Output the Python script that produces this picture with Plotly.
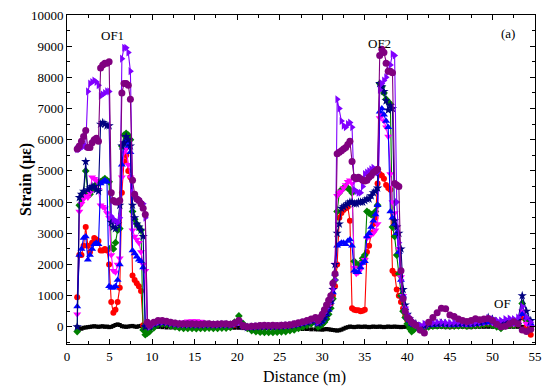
import plotly.graph_objects as go

distance = [
    1.2, 1.45, 1.7, 1.95, 2.2, 2.45, 2.7, 2.95, 3.2, 3.45, 3.7, 3.95, 4.2, 4.45, 4.7, 4.95, 5.2,
    5.45, 5.7, 5.95, 6.2, 6.45, 6.7, 6.95, 7.2, 7.45, 7.7, 7.95, 8.2, 8.45, 8.7, 8.95, 9.2, 9.45,
    9.7, 10.2, 10.7, 11.2, 11.7, 12.2, 12.7, 13.2, 13.7, 14.2, 14.7, 15.2, 15.7, 16.2, 16.7, 17.2,
    17.7, 18.2, 18.7, 19.2, 19.7, 20.2, 20.7, 21.2, 21.7, 22.2, 22.7, 23.2, 23.7, 24.2, 24.7, 25.2,
    25.7, 26.2, 26.7, 27.2, 27.7, 28.2, 28.7, 29.2,
    29.5, 29.75, 30.0, 30.25, 30.5, 30.75, 31.0, 31.25, 31.5, 31.75, 32.0, 32.25, 32.5, 32.75,
    33.0, 33.25, 33.5, 33.75, 34.0, 34.25, 34.5, 34.75, 35.0, 35.25, 35.5, 35.75, 36.0, 36.25,
    36.5, 36.75, 37.0, 37.25, 37.5, 37.75, 38.0, 38.25, 38.5, 38.75, 39.0, 39.25, 39.5, 39.75,
    40.0, 40.25, 40.5, 40.75, 41.0,
    41.5, 42.0, 42.5, 43.0, 43.5, 44.0, 44.5, 45.0, 45.5, 46.0, 46.5, 47.0, 47.5, 48.0, 48.5,
    49.0, 49.5, 50.0, 50.5, 51.0, 51.5, 52.0, 52.5, 53.0, 53.5, 54.0, 54.5,
]

strain_black = [
    0, -50, -60, -30, -20, -10, 0, 10, 20, 10, 0, 10, 20, 0, 10, -10, 0, 30, 60, 80, 60, 20, 10, 0,
    10, 20, 30, 10, 0, 20, 30, 40, 30, 20,
    20, 10, 0, -10, -20, -20, -20, -30, -30, -30, -30, -30, -30, -30, -30, -30, -30, -30, -30, -30,
    -30, -30, -40, -40, -40, -40, -40, -40, -40, -40, -50, -50, -50, -60, -60, -60, -70, -70, -80, -80,
    -80, -80, -90, -80, -70, -80, -90, -100, -110, -120, -110, -90, -60, -30, -10, 10, 0, -10, 0, 10,
    0, 0, 10, 0, -10, 0, 10, 0, 0, 10, 0, -10, 0, 10, 0, 0, 10, 0, 0, -10, 0, 0, 10, 0, 0, 0, 0,
    0, -10, -10, 0, 0, 0, -10, -10, 0, 0, 0, -10, -10, 0, 0, 0, 0, 0, 0, 0, 0, 0, 0, 0, 0, 0, 0,
]

strain_red = [
    950, 2300, 2300, 2600, 3200, 2600, 2400, 2700, 2850, 2800, 2750, 2450, 2450, 2500, 2450, 2000,
    800, 450, 550, 800, 1250, 4300, 5300, 5500, 5000, 4800, 1650, 1500, 1400, 1300, 1150, 50, 0, 50,
    -20, 50, 100, 110, 100, 80, 60, 50, 50, 40, 40, 40, 40, 50, 50, 40, 40, 50, 50, 40, 70, 140, 10,
    -30, -20, -10, 0, 0, 0, 0, 0, 10, 20, 30, 50, 70, 100, 130, 160, 200,
    100, 150, 200, 300, 400, 550, 750, 1000, 1300, 2000, 3500, 3650, 3750, 3800, 3850, 3400, 600,
    550, 530, 530, 500, 520, 550, 2400, 2600, 3000, 3300, 3500, 4600, 4900, 4850, 4750, 4550, 4450,
    4400, 1800, 1700, 1200, 1000, 800, 600, 350, 200, 100, 50, 0, 0,
    -50, 0, 30, 40, 50, 50, 40, 30, 30, 40, 50, 30, 40, 50, 60, 80, 100, 80, 50, 30, 50, 70, 60, 80,
    300, 0, -250,
]

strain_green = [
    -150, 3900, 4100, 4300, 5000, 4300, 4250, 4400, 4500, 4550, 4600, 4650, 4700, 4750, 4700, 4650,
    2550, 2500, 2700, 3100, 3150, 5800, 6150, 6200, 6150, 6000, 3700, 3450, 3300, 3200, 3100, -100,
    -250, -200,
    -150, -30, 80, 100, 80, 30, 0, -30, -50, -50, -50, -60, -50, -50, -40, -50, -50, -40, -40, -20,
    150, 350, 100, -50, -120, -150, -170, -180, -180, -180, -170, -160, -150, -120, -100, -50, 0, 50,
    100, 150,
    0, 30, 80, 150, 250, 400, 600, 900, 1500, 3700, 4300, 4400, 4450, 4500, 4450, 4400, 4300, 2100,
    2000, 1950, 2050, 2200, 2300, 3700, 3650, 3600, 3600, 3700, 3900, 7800, 7700, 7500, 7300, 7200,
    7150, 3200, 2900, 2300, 1700, 1000, 500, 300, 100, -50, -150, -100, 0,
    -100, -50, 0, 20, 30, 40, 30, 20, 20, 30, 40, 20, 30, 40, 50, 80, 100, 50, 0, -50, 30, 60, 50,
    100, 750, 200, 0,
]

strain_magenta = [
    400, 3700, 3950, 4100, 4200, 4150, 4300, 4800, 4750, 4700, 4400, 3900, 3850, 3800, 3650, 3500,
    2300, 1800, 1750, 2000, 2200, 4800, 5600, 5700, 5200, 4800, 3100, 2900, 2800, 2700, 2400, 2000,
    1800, 100,
    50, 130, 180, 180, 170, 150, 130, 120, 150, 180, 190, 190, 170, 120, 100, 90, 90, 100, 100, 90,
    110, 180, 30, 0, 20, 30, 30, 40, 40, 40, 40, 50, 50, 60, 80, 110, 140, 170, 200, 250,
    120, 200, 280, 380, 500, 650, 850, 1200, 2000, 4200, 4300, 4350, 4450, 4550, 4650, 4700, 4600,
    1900, 1700, 1750, 1850, 2050, 2150, 2850, 2900, 2950, 3000, 3100, 3300, 6700, 6800, 6600, 6400,
    6100, 4900, 4000, 3650, 3200, 2500, 1600, 1000, 600, 300, 200, 100, 80, 50,
    0, 50, 80, 90, 100, 100, 90, 80, 80, 90, 100, 80, 90, 100, 110, 130, 150, 120, 80, 60, 80, 100,
    90, 120, 500, 100, 0,
]

strain_blue = [
    650, 2300, 2500, 2850, 2900, 2150, 2300, 2500, 2650, 2700, 2650, 4600, 4650, 4700, 4650, 1300,
    1250, 1250, 1300, 1500, 2000, 5200, 5900, 5950, 5800, 5600, 2450, 2350, 2250, 2150, 2100, 1900,
    50, 50,
    0, 80, 120, 130, 120, 100, 80, 70, 60, 60, 60, 50, 50, 60, 60, 50, 50, 60, 60, 50, 80, 150, 20,
    -30, -20, 0, 0, 10, 10, 10, 10, 20, 30, 40, 60, 80, 110, 140, 180, 230,
    100, 150, 200, 300, 400, 550, 800, 1100, 1700, 2600, 2650, 2700, 2700, 2650, 2750, 2800, 2600,
    1800, 1750, 1750, 1900, 2050, 2100, 2900, 3000, 3200, 3400, 3600, 3900, 6900, 7000, 6800, 6600,
    6400, 3700, 3500, 3300, 3000, 2400, 1500, 1000, 600, 300, 200, 100, 50, 50,
    -50, 0, 50, 60, 70, 80, 70, 60, 60, 70, 80, 60, 70, 80, 100, 120, 150, 130, 100, 80, 100, 120,
    100, 150, 400, 300, 100,
]

strain_navy = [
    0, 4150, 4250, 4350, 5300, 4400, 4450, 4500, 4500, 4400, 4350, 6500, 6550, 6500, 6450, 6450,
    3350, 3200, 3150, 3300, 3900, 5800, 5900, 6100, 6000, 5800, 3900, 3500, 3300, 3200, 3100, 2900,
    0, 50,
    0, 80, 120, 140, 130, 110, 90, 80, 70, 70, 70, 60, 60, 70, 70, 60, 60, 70, 70, 60, 90, 160, 20,
    -20, -10, 0, 10, 10, 10, 10, 10, 20, 30, 40, 60, 80, 110, 140, 180, 230,
    100, 150, 200, 300, 450, 600, 800, 1200, 2000, 3000, 3300, 3800, 3850, 3900, 3950, 4000, 4000,
    3950, 3950, 4000, 4000, 4000, 4050, 4100, 4100, 4200, 4300, 4350, 4450, 7800, 7700, 7550, 7250,
    6950, 7100, 7000, 3400, 3200, 3000, 2500, 1200, 700, 400, 250, 150, 100, 100,
    0, 50, 80, 100, 110, 120, 110, 100, 100, 110, 120, 100, 110, 130, 150, 200, 300, 250, 150, 120,
    150, 180, 160, 200, 1000, 500, 200,
]

strain_violet = [
    5700, 5700, 5750, 5800, 5800, 7550, 7800, 7850, 7900, 7850, 7750, 7400, 7450, 7500, 7550, 7550,
    3550, 3450, 3400, 3350, 3500, 8600, 8950, 8950, 8800, 8200, 4300, 4200, 4150, 4100, 4000, 3950,
    3500, 100,
    0, 100, 150, 160, 150, 120, 100, 80, 80, 80, 80, 70, 70, 80, 80, 70, 70, 80, 80, 70, 100, 150,
    30, 0, 10, 20, 30, 30, 30, 30, 30, 40, 50, 60, 80, 110, 140, 170, 210, 260,
    150, 250, 350, 450, 600, 750, 900, 1200, 1500, 7300, 7000, 6600, 6450, 6400, 6500, 6550, 6400,
    4400, 4350, 4300, 4300, 4500, 4900, 4950, 5000, 5050, 5100, 5000, 4950, 7600, 7800, 7900, 8000,
    8200, 8400, 8750, 8700, 4000, 2700, 1500, 900, 600, 400, 300, 200, 150, 100,
    50, 100, 120, 130, 150, 150, 130, 120, 130, 150, 150, 120, 130, 150, 180, 230, 280, 250, 200,
    200, 250, 270, 250, 300, 650, 300, 150,
]

strain_purple = [
    5700, 5800, 5950, 6100, 6300, 5750, 5750, 5900, 6000, 6050, 5950, 8300, 8400, 8450, 8450, 8500,
    4300, 4050, 4000, 4000, 4050, 7500, 7800, 7800, 7750, 7300, 4700, 4250, 4100, 4050, 3950, 3800,
    3600, 150,
    50, 150, 200, 200, 180, 150, 120, 100, 100, 100, 100, 90, 80, 100, 100, 80, 90, 100, 100, 80,
    120, 200, 40, 0, 20, 30, 40, 50, 40, 50, 40, 50, 60, 70, 100, 130, 160, 200, 250, 300,
    200, 300, 400, 550, 700, 850, 1000, 1400, 1700, 5550, 5600, 5650, 5700, 5750, 5850, 5950, 5300,
    4800, 4750, 4800, 4750, 4700, 4680, 4700, 4800, 4850, 4950, 5000, 5050, 8700, 8900, 8800, 8450,
    8200, 8200, 8150, 4600, 4550, 4500, 1800, 900, 500, 300, 250, 150, 100, 50,
    -100, -200, 150, 300, 450, 600, 580, 380, 330, 250, 200, 170, 200, 260, 230, 250, 270, 200, 80,
    0, 20, 100, 160, 100, -100, -150, -80,
]

x_ticks = [0, 5, 10, 15, 20, 25, 30, 35, 40, 45, 50, 55]
y_ticks = [0, 1000, 2000, 3000, 4000, 5000, 6000, 7000, 8000, 9000, 10000]

series = [
    ("black", strain_black, "#000000", "square", 4),
    ("red", strain_red, "#FF0000", "circle", 6),
    ("green", strain_green, "#008000", "diamond", 6),
    ("magenta", strain_magenta, "#FF00FF", "triangle-down", 7),
    ("blue", strain_blue, "#0000FF", "triangle-up", 7),
    ("navy", strain_navy, "#000080", "star", 7),
    ("violet", strain_violet, "#8000FF", "triangle-right", 7),
    ("purple", strain_purple, "#800080", "circle", 7),
]

font_family = "Liberation Serif, Times New Roman, serif"

fig = go.Figure()
for name, vals, color, symbol, size in series:
    fig.add_trace(go.Scatter(
        x=distance, y=vals, mode="lines+markers", name=name,
        line=dict(color=color, width=1.1),
        marker=dict(color=color, symbol=symbol, size=size, line=dict(width=0)),
    ))

axis_common = dict(
    showline=True, linecolor="black", linewidth=1, mirror="ticks",
    ticks="inside", ticklen=5, tickcolor="black", tickwidth=1,
    showgrid=False, zeroline=False, tickformat="d",
    tickfont=dict(family=font_family, size=13, color="black"),
)

fig.update_xaxes(range=[0, 55], tickmode="array", tickvals=x_ticks,
                 minor=dict(tickmode="linear", tick0=0, dtick=2.5, ticks="inside", ticklen=3,
                            tickcolor="black", showgrid=False),
                 **axis_common)
fig.update_yaxes(range=[-550, 10000], tickmode="array", tickvals=y_ticks,
                 minor=dict(tickmode="linear", tick0=0, dtick=500, ticks="inside", ticklen=3,
                            tickcolor="black", showgrid=False),
                 **axis_common)

labels = [("OF1", 5.3, 9350), ("OF2", 36.7, 9100), ("OF", 51.2, 750), ("(a)", 51.8, 9420)]
annotations = [dict(x=lx, y=ly, xref="x", yref="y", text=t, showarrow=False,
                    font=dict(family=font_family, size=13, color="black")) for t, lx, ly in labels]
annotations.append(dict(x=-0.112, y=0.5, xref="paper", yref="paper", text="<b>Strain (με)</b>",
                        textangle=-90, showarrow=False,
                        font=dict(family=font_family, size=16, color="black")))
annotations.append(dict(x=0.508, y=-0.1, xref="paper", yref="paper", text="Distance (m)",
                        showarrow=False, yanchor="middle",
                        font=dict(family=font_family, size=16, color="black")))

fig.update_layout(
    width=550, height=387,
    margin=dict(l=67, r=8, t=13, b=43),
    plot_bgcolor="white", paper_bgcolor="white",
    showlegend=False,
    annotations=annotations,
)

fig.write_html("out.html", config={"displayModeBar": False},
               post_script="document.body.style.margin='0px';document.body.style.padding='0px';")
